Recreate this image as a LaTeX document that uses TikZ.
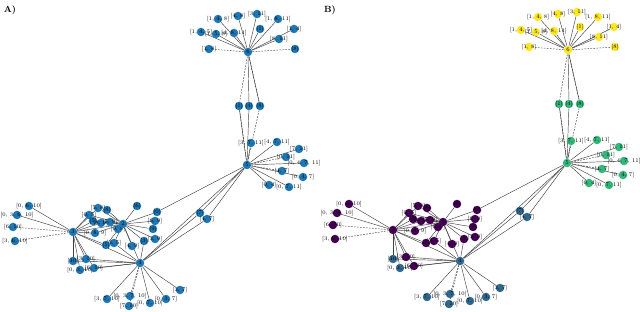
\documentclass[tikz,border=0pt]{standalone}
\pgfdeclarelayer{edges}
\pgfsetlayers{edges,main}
\definecolor{tabblue}{RGB}{31,119,180}
\definecolor{vyellow}{RGB}{253,231,37}
\definecolor{vgreen}{RGB}{53,183,121}
\definecolor{vpurple}{RGB}{68,1,84}
\definecolor{vblue}{RGB}{49,104,142}
\tikzset{
 dot/.style={circle,inner sep=0pt,minimum size=8.5pt},
 lbl/.style={font=\fontsize{5.5}{6}\selectfont,inner sep=0pt,text=black},
 ed/.style={draw=black!75,line width=0.45pt},
 dd/.style={ed,dash pattern=on 1.8pt off 1.2pt},
 panel/.style={font=\bfseries\fontsize{9}{10}\selectfont,inner sep=0pt},
}
\newcommand\nd[4]{\node[dot,fill=#4,label={[lbl]center:{#3}}] (#1) at (#2) {};}
\newcommand\netw{%
 % top cluster
 \nd{T}{248,52}{6}{cT}
 \nd{t1}{218,19}{[1, 4, 8]}{cT}
 \nd{t2}{238,16}{[4, 8]}{cT}
 \nd{t3}{257,14}{[3, 11]}{cT}
 \nd{t4}{278,19}{[1, 8, 11]}{cT}
 \nd{t5}{260,29}{[1]}{cT}
 \nd{t6}{294,29}{[1, 4]}{cT}
 \nd{t7}{201,32}{[1, 4, 5]}{cT}
 \nd{t8}{216,34}{[1, 5, 8]}{cT}
 \nd{t9}{234,33}{[4, 8, 11]}{cT}
 \nd{t10}{279,39}{[8, 11]}{cT}
 \nd{t11}{209,49}{[1, 8]}{cT}
 \nd{t12}{295,49}{[8]}{cT}
 % connectors
 \nd{c1}{239,106}{[1]}{cM}
 \nd{c2}{249,106}{[4]}{cM}
 \nd{c3}{260,106}{[8]}{cM}
 % middle cluster
 \nd{M}{247,165}{5}{cM}
 \nd{m1}{251,143}{[3, 7, 11]}{cM}
 \nd{m2}{277,142}{[4, 7, 11]}{cM}
 \nd{m3}{299,149}{[7, 11]}{cM}
 \nd{m4}{286,157}{[0, 11]}{cM}
 \nd{m5}{304,163}{[0, 4, 7, 11]}{cM}
 \nd{m6}{282,171}{[4, 7]}{cM}
 \nd{m7}{303,177}{[0, 4, 7]}{cM}
 \nd{m8}{269,185}{[0, 4]}{cM}
 \nd{m9}{289,187}{[0, 7, 11]}{cM}
 \nd{k1}{200,213}{[7]}{cB}
 \nd{k2}{207,219}{[4, 7]}{cB}
 % left hub
 \nd{L}{73,232}{3}{cP}
 \nd{l1}{29,206}{[0, 6, 10]}{cP}
 \nd{l2}{17,215}{[0, 3, 6, 10]}{cP}
 \nd{l3}{13,227}{[6, 10]}{cP}
 \nd{l4}{15,241}{[3, 6, 10]}{cP}
 \nd{l5}{73,261}{[10]}{cB}
 \nd{l6}{86,259}{[3, 10]}{cP}
 \nd{l7}{80,270}{[0, 3, 10]}{cB}
 \nd{l8}{94,268}{[6, 10]}{cP}
 % hub 2 cluster
 \nd{h1}{137,206}{[6]}{cP}
 \nd{h2}{157,212}{[0]}{cP}
 \nd{h3}{155,221}{[6, 9]}{cP}
 \nd{h4}{153,229}{[9]}{cP}
 \nd{h5}{155,239}{[3, 9]}{cP}
 \nd{h6}{144,241}{[3]}{cP}
 \nd{h7}{132,246}{[4, 9]}{cP}
 \nd{h8}{114,243}{[3, 5]}{cP}
 \nd{h9}{106,245}{[5]}{cP}
 \nd{h10}{95,233}{[0, 8, 9]}{cP}
 \nd{h11}{89,215}{[0, 5]}{cP}
 \nd{h12}{98,208}{[5, 8]}{cP}
 \nd{h13}{107,210}{[8]}{cP}
 \nd{h14}{93,221}{[5]}{cP}
 \nd{h15}{101,223}{[8, 9]}{cP}
 \nd{h16}{110,222}{[5, 9]}{cP}
 \nd{h17}{118,229}{[0, 9]}{cP}
 \nd{H}{123,224}{2}{cP}
 % bottom hub
 \nd{B}{140,263}{4}{cB}
 \nd{b1}{107,299}{[3, 7, 10]}{cB}
 \nd{b2}{130,296}{[0, 3, 7, 10]}{cB}
 \nd{b3}{129,306}{[7, 10]}{cB}
 \nd{b4}{150,303}{[0, 7, 10]}{cB}
 \nd{b5}{166,299}{[0, 3, 7]}{cB}
 \nd{b6}{180,290}{[3, 7]}{cB}
 \begin{pgfonlayer}{edges}
  \foreach \x in {t1,t2,t3,t4,t5,t6,t7,t8,t9,t10} \draw[ed] (T) -- (\x);
  \foreach \x in {t11,t12} \draw[dd] (T) -- (\x);
  \draw[dd] (T) -- (c1); \draw[ed] (T) -- (c2); \draw[dd] (T) -- (c3);
  \draw[dd] (c1) -- (M); \draw[ed] (c2) -- (M); \draw[dd] (c3) -- (M);
  \draw[ed] (c1) -- (M); \draw[ed] (T) -- (c3);
  \foreach \x in {m1,m2,m3,m5,m7,m8,m9} \draw[ed] (M) -- (\x);
  \foreach \x in {m4,m6} \draw[dd] (M) -- (\x);
  \foreach \x in {h2,k1,k2,B} \draw[ed] (M) -- (\x);
  \draw[ed] (k1) -- (B); \draw[ed] (k2) -- (B);
  \draw[ed] (L) -- (l1); \draw[ed] (L) -- (l2);
  \draw[dd] (L) -- (l3); \draw[dd] (L) -- (l4);
  \foreach \x in {l5,l6,l7,l8} {\draw[ed] (L) -- (\x); \draw[ed] (B) -- (\x);}
  \foreach \x in {H,h11,h14,h15,h10,h9,h12,B} \draw[ed] (L) -- (\x);
  \foreach \x in {h1,h2,h3,h4,h5,h6,h7,h8,h9,h10,h11,h12,h13,h14,h15,h16,h17} \draw[ed] (H) -- (\x);
  \foreach \x in {H,h8,h6} \draw[ed] (B) -- (\x);
  \foreach \x in {b1,b4,b5,b6} \draw[ed] (B) -- (\x);
  \foreach \x in {b2,b3} \draw[dd] (B) -- (\x);
 \end{pgfonlayer}
}
\begin{document}
\begin{tikzpicture}[x=1pt,y=-1pt]
\useasboundingbox (0,0) rectangle (640,312);
\node[panel] (pA) at (10,10) {A)};
\node[panel] (pB) at (330,10) {B)};
\begin{scope}[name prefix=A-]
 \colorlet{cT}{tabblue}\colorlet{cM}{tabblue}\colorlet{cP}{tabblue}\colorlet{cB}{tabblue}
 \netw
\end{scope}
\begin{scope}[name prefix=B-,shift={(320,-2)}]
 \colorlet{cT}{vyellow}\colorlet{cM}{vgreen}\colorlet{cP}{vpurple}\colorlet{cB}{vblue}
 \netw
\end{scope}
\end{tikzpicture}
\end{document}
